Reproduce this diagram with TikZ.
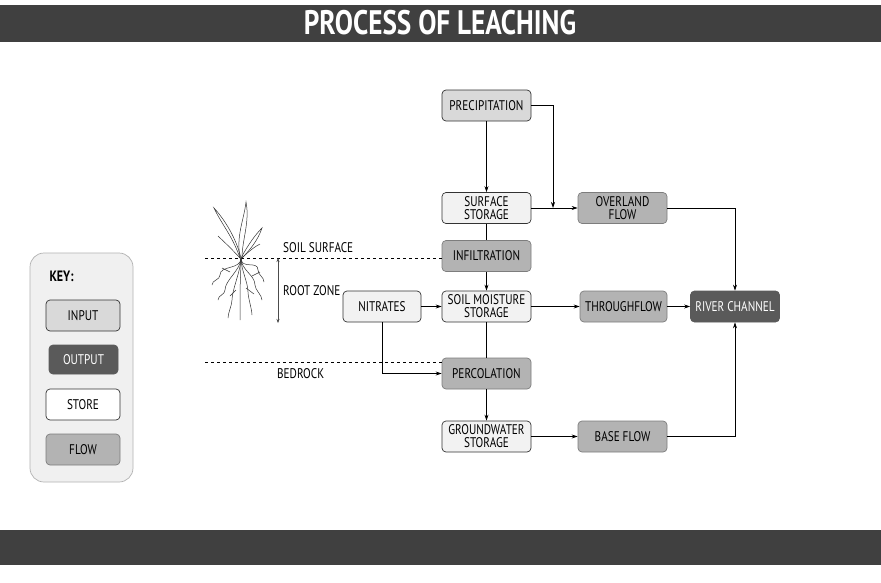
\documentclass[tikz,border=0pt]{standalone}
\usepackage{fontspec}
\setmainfont[FakeStretch=0.8]{PT Sans}
\usetikzlibrary{arrows.meta}
\definecolor{dark}{HTML}{404040}
\definecolor{inp}{HTML}{D9D9D9}
\definecolor{sto}{HTML}{F2F2F2}
\definecolor{flo}{HTML}{B3B3B3}
\definecolor{outc}{HTML}{5A5A5A}
\begin{document}
\begin{tikzpicture}[x=1pt,y=-1pt,
 box/.style={draw=black!80,rounded corners=4pt,minimum width=89pt,minimum height=31pt,inner sep=1pt,align=center,font=\fontsize{14}{13}\selectfont,line width=0.7pt},
 input/.style={box,fill=inp},
 store/.style={box,fill=sto},
 flow/.style={box,fill=flo,draw=flo!70!black},
 output/.style={box,fill=outc,draw=outc,text=white},
 arr/.style={-{Stealth[length=6pt,width=4pt]},line width=0.7pt},
 ln/.style={line width=0.7pt},
 lab/.style={font=\fontsize{14}{13}\selectfont,anchor=west,inner sep=0pt}]
\useasboundingbox (0,0) rectangle (881,582);
\fill[white] (0,0) rectangle (881,582);
\fill[dark] (0,5) rectangle (881,42);
\fill[dark] (0,530) rectangle (881,565);
\node[text=white,font=\fontsize{34}{34}\selectfont\bfseries] (title) at (440,23) {PROCESS OF LEACHING};
% key
\node[draw=black!30,fill=black!6,rounded corners=14pt,minimum width=103pt,minimum height=229pt,line width=0.7pt] (keybox) at (81.5,367.5) {};
\node[font=\fontsize{15}{15}\selectfont\bfseries,anchor=west] (keyt) at (46,276) {KEY:};
\node[input,minimum width=74pt] (k1) at (83,315.5) {INPUT};
\node[output,minimum width=69pt,minimum height=29pt] (k2) at (83.5,359.5) {OUTPUT};
\node[box,fill=white,minimum width=74pt] (k3) at (83,404.5) {STORE};
\node[flow,minimum width=74pt] (k4) at (83,449.5) {FLOW};
% main nodes
\node[input] (pre) at (486.5,105.5) {PRECIPITATION};
\node[store] (ss) at (486.5,208) {SURFACE\\STORAGE};
\node[flow] (of) at (622.5,208) {OVERLAND\\FLOW};
\node[flow] (inf) at (486.5,256) {INFILTRATION};
\node[store] (sm) at (486.5,306.5) {SOIL MOISTURE\\STORAGE};
\node[store,minimum width=78pt] (nit) at (382,306.5) {NITRATES};
\node[flow,minimum width=87pt] (tf) at (623.5,306.5) {THROUGHFLOW};
\node[output] (rc) at (735,306.5) {RIVER CHANNEL};
\node[flow] (per) at (486.5,373.5) {PERCOLATION};
\node[store] (gw) at (486.5,436.5) {GROUNDWATER\\STORAGE};
\node[flow] (bf) at (622.5,436.5) {BASE FLOW};
\coordinate (pc) at (553,208);
% connectors
\draw[arr] (pre) -- (ss);
\draw[arr] (pre.east) -| (pc);
\draw[arr] (ss) -- (of);
\draw[ln] (ss) -- (inf);
\draw[arr] (inf) -- (sm);
\draw[arr] (sm) -- (tf);
\draw[ln] (sm) -- (per);
\draw[arr] (per) -- (gw);
\draw[arr] (gw) -- (bf);
\draw[arr] (of.east) -| (rc.north);
\draw[arr] (tf) -- (rc);
\draw[arr] (bf.east) -| (rc.south);
\draw[arr] (nit) -- (sm);
\draw[arr] (nit.south) |- (per.west);
% soil lines
\coordinate (d1) at (205,258); \coordinate (d2) at (205,362);
\draw[dashed,line width=0.7pt] (d1) -- (inf.west |- d1);
\draw[dashed,line width=0.7pt] (d2) -- (per.west |- d2);
\coordinate (rz1) at (278,258); \coordinate (rz2) at (278,323);
\draw[{Stealth[length=4pt,width=3pt]}-{Stealth[length=4pt,width=3pt]},line width=0.4pt,black!70] (rz1) -- (rz2);
\node[lab] (l1) at (283,248) {SOIL SURFACE};
\node[lab] (l2) at (283,291) {ROOT ZONE};
\node[lab] (l3) at (277,374) {BEDROCK};
% plant
\begin{scope}[line width=0.5pt,black!80]
\draw (240,258) .. controls (232,235) and (222,225) .. (214,208) .. controls (225,220) and (236,238) .. (241,258);
\draw (240,258) .. controls (236,235) and (244,220) .. (246,202) .. controls (250,222) and (242,240) .. (242,258);
\draw (241,258) .. controls (248,245) and (255,235) .. (262,228) .. controls (258,240) and (250,250) .. (242,258);
\draw (240,258) .. controls (228,245) and (222,240) .. (218,236);
\draw (242,258) .. controls (250,250) and (256,246) .. (260,244);
\foreach \a/\b/\c/\d in {225/290/218/300, 232/300/228/318, 240/295/240/320, 248/292/252/315, 255/285/262/300, 220/275/212/285, 258/270/264/282}{
 \draw (241,258) .. controls (241,270) and (\a,\b-10) .. (\a,\b) .. controls (\a,\b+5) and (\c,\d-5) .. (\c,\d);
}
\draw (230,272) -- (222,268); \draw (252,276) -- (260,272); \draw (236,290) -- (230,296); \draw (246,288) -- (254,294);
\end{scope}
\end{tikzpicture}
\end{document}
